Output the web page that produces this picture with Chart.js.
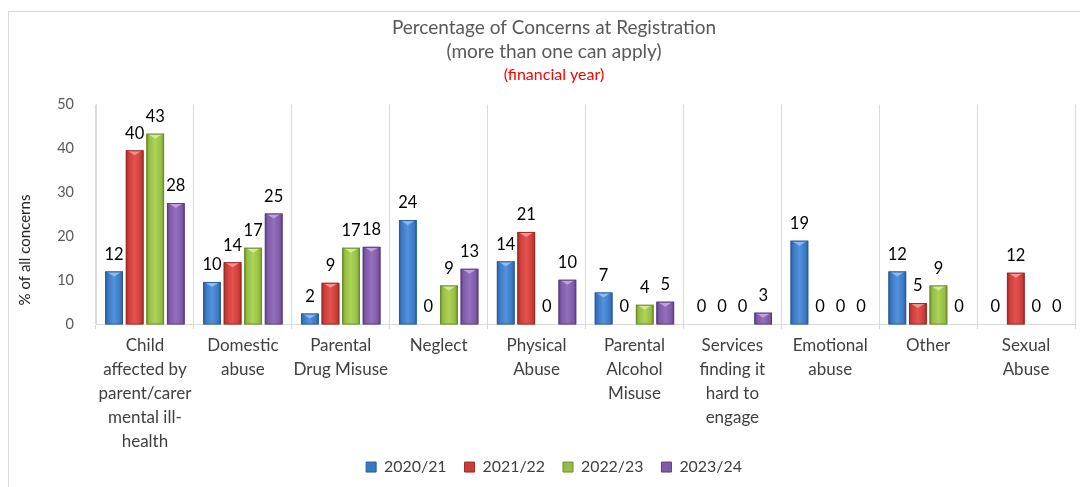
<!DOCTYPE html>
<html>
<head>
<meta charset="utf-8">
<script src="https://cdn.jsdelivr.net/npm/chart.js@4.4.0/dist/chart.umd.min.js"></script>
<style>
  html, body { margin: 0; padding: 0; background: #fff; overflow: hidden; }
  #frame { position: absolute; left: 8px; top: 11px; width: 1200px; height: 600px; border: 1px solid #d9d9d9; }
  #wrap { position: absolute; left: 0; top: 0; width: 1080px; height: 487px; }
</style>
</head>
<body>
<div id="frame"></div>
<div id="wrap"><canvas id="concernsChart"></canvas></div>
<script>
// data (labels show rounded values)
const categories = [
  ['Child', 'affected by', 'parent/carer', 'mental ill-', 'health'],
  ['Domestic', 'abuse'],
  ['Parental', 'Drug Misuse'],
  ['Neglect'],
  ['Physical', 'Abuse'],
  ['Parental', 'Alcohol', 'Misuse'],
  ['Services', 'finding it', 'hard to', 'engage'],
  ['Emotional', 'abuse'],
  ['Other'],
  ['Sexual', 'Abuse']
];
const seriesNames = ['2020/21', '2021/22', '2022/23', '2023/24'];
const fy2021 = [12.0, 9.6, 2.4, 23.7, 14.3, 7.2, 0, 19.0, 12.0, 0];
const fy2122 = [39.6, 14.1, 9.4, 0, 21.0, 0, 0, 0, 4.8, 11.7];
const fy2223 = [43.4, 17.4, 17.4, 8.8, 0, 4.4, 0, 0, 8.8, 0];
const fy2324 = [27.6, 25.2, 17.6, 12.6, 10.1, 5.1, 2.6, 0, 0, 0];
const yTicks = [0, 10, 20, 30, 40, 50];

// dark edge / light middle / cap colour for the bevelled bars
const palette = [
  { dark: '#2b5c98', mid: '#3b78c4', light: '#5592dc', cap: '#8cbcf0' },
  { dark: '#9c2a27', mid: '#cc3d3a', light: '#e4534e', cap: '#f39490' },
  { dark: '#6d8c2c', mid: '#95bd45', light: '#acd456', cap: '#d2eb94' },
  { dark: '#5a3f80', mid: '#7f5aa6', light: '#946fbd', cap: '#bda2dc' }
];

const FONT = 'Lato, "Open Sans", sans-serif';

const allSeries = [fy2021, fy2122, fy2223, fy2324];

// bevel + value labels on top of the bars
const barDecor = {
  id: 'barDecor',
  afterLayout(chart) {
    // let the multi-line category labels run under the legend box instead of being clipped
    chart.scales.x.bottom = chart.height;
  },
  afterDatasetsDraw(chart) {
    const ctx = chart.ctx;
    ctx.save();
    chart.data.datasets.forEach((ds, i) => {
      const meta = chart.getDatasetMeta(i);
      const p = palette[i];
      meta.data.forEach(bar => {
        const { x, y, base, width } = bar.getProps(['x', 'y', 'base', 'width'], true);
        const h = base - y;
        if (h >= 1) {
          const l = x - width / 2, r = x + width / 2;
          const g = ctx.createLinearGradient(l, 0, r, 0);
          g.addColorStop(0, p.dark);
          g.addColorStop(0.15, p.mid);
          g.addColorStop(0.5, p.light);
          g.addColorStop(0.85, p.mid);
          g.addColorStop(1, p.dark);
          ctx.fillStyle = g;
          ctx.fillRect(l, y, width, h);
          const capH = Math.min(5, h);
          ctx.fillStyle = p.cap;
          ctx.beginPath();
          ctx.moveTo(l + 1, y);
          ctx.lineTo(r - 1, y);
          ctx.lineTo(x, y + capH);
          ctx.closePath();
          ctx.fill();
          ctx.strokeStyle = p.dark;
          ctx.lineWidth = 1;
          ctx.strokeRect(l + 0.5, y + 0.5, width - 1, h - 0.5);
        }
      });
    });
    ctx.fillStyle = '#000';
    ctx.font = '16.5px ' + FONT;
    ctx.textAlign = 'center';
    ctx.textBaseline = 'middle';
    chart.data.datasets.forEach((ds, i) => {
      const meta = chart.getDatasetMeta(i);
      meta.data.forEach((bar, j) => {
        ctx.fillText(String(Math.round(ds.data[j])), bar.x, bar.y - 17);
      });
    });
    ctx.restore();
  }
};

// y axis title, placed like the original
const yTitle = {
  id: 'yTitle',
  afterDraw(chart) {
    const ctx = chart.ctx;
    ctx.save();
    ctx.translate(25, 250);
    ctx.rotate(-Math.PI / 2);
    ctx.fillStyle = '#262626';
    ctx.font = '15px ' + FONT;
    ctx.textAlign = 'center';
    ctx.textBaseline = 'middle';
    ctx.fillText('% of all concerns', 0, 0);
    ctx.restore();
  }
};

const ctx = document.getElementById('concernsChart').getContext('2d');
new Chart(ctx, {
  type: 'bar',
  data: {
    labels: categories,
    datasets: allSeries.map((vals, i) => ({
      label: seriesNames[i],
      data: vals,
      backgroundColor: palette[i].mid,
      borderColor: palette[i].dark,
      borderWidth: 1,
      categoryPercentage: 0.84,
      barPercentage: 0.86
    }))
  },
  options: {
    responsive: true,
    maintainAspectRatio: false,
    animation: false,
    layout: { padding: { left: 33, right: 5, top: 0, bottom: 2 } },
    plugins: {
      title: {
        display: true,
        text: ['Percentage of Concerns at Registration', '(more than one can apply)'],
        color: '#595959',
        font: { family: FONT, size: 19, weight: 'normal', lineHeight: 1.25 },
        padding: { top: 16, bottom: 0 }
      },
      subtitle: {
        display: true,
        text: '(financial year)',
        color: '#ff0000',
        font: { family: FONT, size: 16, weight: 'normal', lineHeight: 1.2 },
        padding: { top: 2, bottom: 20 }
      },
      legend: {
        position: 'bottom',
        labels: {
          boxWidth: 10,
          boxHeight: 10,
          padding: 18,
          color: '#404040',
          font: { family: FONT, size: 15.9 }
        }
      },
      tooltip: { enabled: false }
    },
    scales: {
      x: {
        grid: { display: true, offset: true, color: '#d9d9d9', tickLength: 5 },
        border: { color: '#d9d9d9' },
        ticks: {
          color: '#404040',
          font: { family: FONT, size: 17, lineHeight: 1.4 },
          padding: 5,
          maxRotation: 0,
          autoSkip: false
        },
        afterFit: s => { s.height = 117; }
      },
      y: {
        min: 0,
        max: 50,
        afterBuildTicks: s => { s.ticks = yTicks.map(v => ({ value: v })); },
        grid: { display: false },
        border: { display: true, color: '#d9d9d9' },
        ticks: { color: '#595959', font: { family: FONT, size: 14.5 }, padding: 14 },
        afterFit: s => { s.width = 63; }
      }
    }
  },
  plugins: [barDecor, yTitle]
});
</script>
</body>
</html>
